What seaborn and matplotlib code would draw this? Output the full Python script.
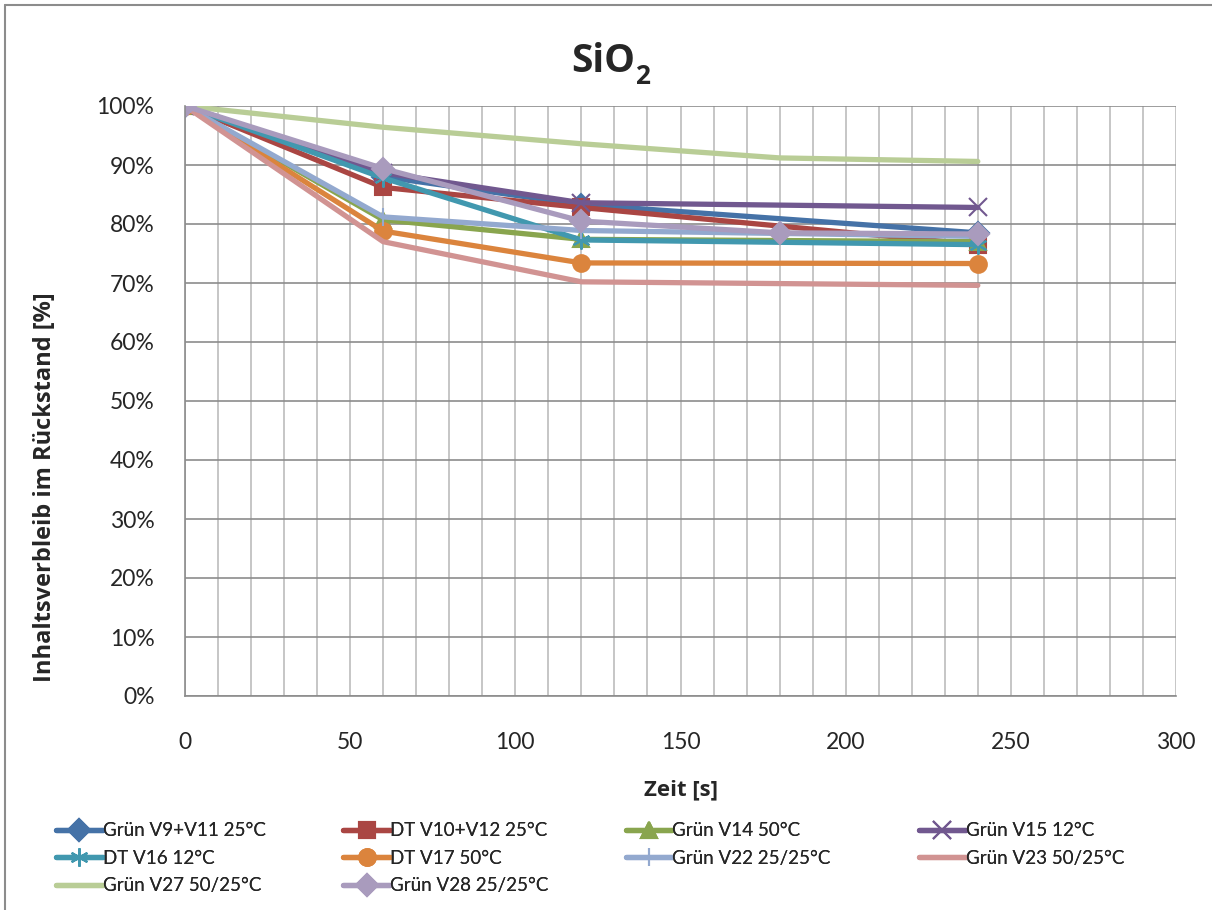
import pandas as pd
import matplotlib.pyplot as plt
import seaborn as sns
from matplotlib.lines import Line2D
from matplotlib.ticker import MultipleLocator, FuncFormatter

sns.set_style('white')
plt.rcParams['font.family'] = ['Lato', 'DejaVu Sans']
bold_font = ['Open Sans', 'DejaVu Sans']

# Zeit [s]
t4 = [0, 60, 120, 240]
t5 = [0, 60, 120, 180, 240]

# Inhaltsverbleib [%]
v9_v11 = [100, 88.0, 83.3, 78.5]
v10_v12 = [100, 86.2, 82.8, 76.5]
v14 = [100, 80.7, 77.4, 77.0]
v15 = [100, 88.7, 83.6, 82.8]
v16 = [100, 87.8, 77.3, 76.5]
v17 = [100, 78.8, 73.4, 73.3]
v22 = [100, 81.2, 78.9, 77.9]
v23 = [100, 77.0, 70.2, 69.6]
v27 = [100, 96.4, 93.6, 91.2, 90.6]
v28 = [100, 89.4, 80.5, 78.5, 78.3]

labels = ['Grün V9+V11 25°C', 'DT V10+V12 25°C', 'Grün V14 50°C', 'Grün V15 12°C',
          'DT V16 12°C', 'DT V17 50°C', 'Grün V22 25/25°C', 'Grün V23 50/25°C',
          'Grün V27 50/25°C', 'Grün V28 25/25°C']
series = [(t4, v9_v11), (t4, v10_v12), (t4, v14), (t4, v15), (t4, v16),
          (t4, v17), (t4, v22), (t4, v23), (t5, v27), (t5, v28)]
colors = ['#4572A7', '#AA4643', '#89A54E', '#71588F', '#4198AF',
          '#DB843D', '#93A9CF', '#D19392', '#B9CD96', '#A99BBD']
markers = ['D', 's', '^', 'x', (6, 2, 0), 'o', '|', None, None, 'D']

fig = plt.figure(figsize=(12.12, 9.10), dpi=100)
ax = fig.add_axes([185/1212, 1-696/910, (1176-185)/1212, (696-106)/910])

for (x, y), lab, c, m in zip(series, labels, colors, markers):
    kw = dict(marker=m, markersize=12, markeredgewidth=1.5, markeredgecolor=c)
    if m == 'D':
        kw['markersize'] = 11
    if m in ('x', (6, 2, 0), '|'):
        kw['markersize'] = 13
    sns.lineplot(x=x, y=y, ax=ax, color=c, linewidth=3.8, label=lab,
                 estimator=None, sort=False, **kw)

ax.set_xlim(0, 300)
ax.set_ylim(0, 100)
ax.xaxis.set_major_locator(MultipleLocator(50))
ax.xaxis.set_minor_locator(MultipleLocator(10))
ax.yaxis.set_major_locator(MultipleLocator(10))
ax.yaxis.set_major_formatter(FuncFormatter(lambda v, p: f'{v:.0f}%'))
ax.grid(True, axis='y', which='major', color='#8c8c8c', linewidth=1.2)
ax.grid(True, axis='x', which='both', color='#bcbcbc', linewidth=1.2)
ax.set_axisbelow(True)
for s in ['top', 'right']:
    ax.spines[s].set_visible(False)
for s in ['left', 'bottom']:
    ax.spines[s].set_color('#8c8c8c')
    ax.spines[s].set_linewidth(1.2)
ax.tick_params(axis='both', which='both', length=0, labelsize=16.5)
ax.tick_params(axis='y', pad=22)
ax.tick_params(axis='x', pad=26)

# title SiO2 with subscript
fig.text(635/1212, 1-61/910, 'SiO', fontsize=28, fontweight='bold', family=bold_font,
         ha='right', va='center')
fig.text(635/1212, 1-76/910, '2', fontsize=19, fontweight='bold', family=bold_font,
         ha='left', va='center')

ax.set_xlabel('Zeit [s]', fontsize=16, fontweight='bold', family=bold_font)
ax.xaxis.set_label_coords(0.5, -(790-696)/590)
ax.xaxis.label.set_va('center')
ax.set_ylabel('Inhaltsverbleib im Rückstand [%]', fontsize=17, fontweight='bold', family=bold_font)
ax.yaxis.set_label_coords(-(185-45)/991, (696-487)/590)
ax.yaxis.label.set_va('center')

# legend in 4 columns, filled row by row
handles, labs = ax.get_legend_handles_labels()
ax.get_legend().remove()
col_x = [0.04, 0.277, 0.51, 0.752]
for i in range(4):
    idx = list(range(i, len(labs), 4))
    leg = fig.legend([handles[j] for j in idx], [labs[j] for j in idx],
                     loc='upper left', bbox_to_anchor=(col_x[i], 1-815/910),
                     frameon=False, fontsize=13.5, handlelength=2.5,
                     handletextpad=0.0, labelspacing=0.55, borderaxespad=0)
    fig.add_artist(leg)

# chart area border (top and left)
fig.add_artist(Line2D([5/1212, 5/1212], [0, 1-5/910], transform=fig.transFigure, color='#8c8c8c', linewidth=1.5))
fig.add_artist(Line2D([5/1212, 1], [1-5/910, 1-5/910], transform=fig.transFigure, color='#8c8c8c', linewidth=1.5))

fig.savefig('out.png', dpi=100)
